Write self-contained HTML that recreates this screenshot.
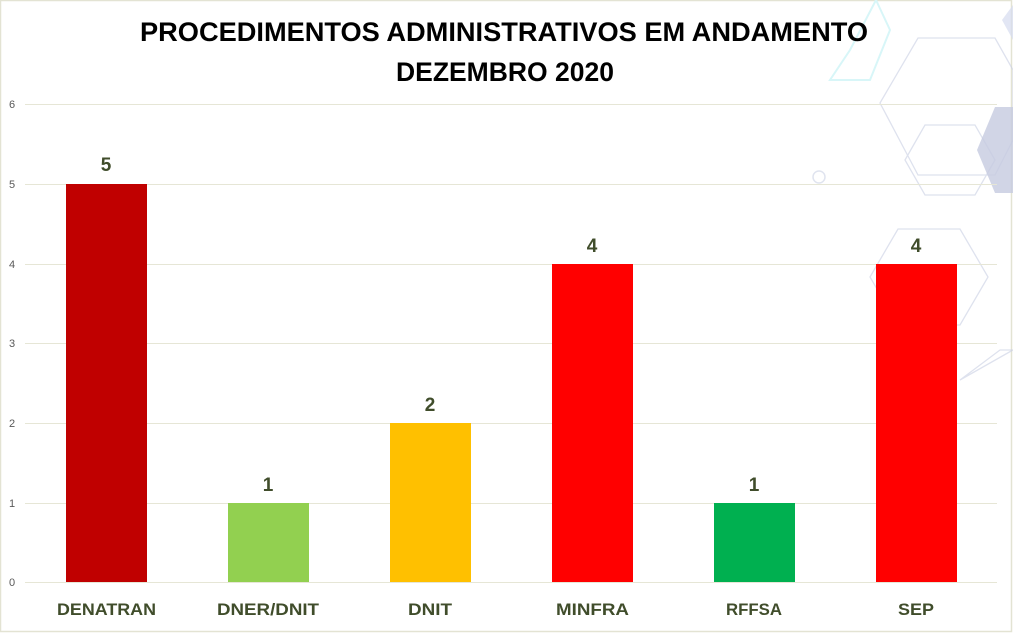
<!DOCTYPE html>
<html><head><meta charset="utf-8"><style>
html,body{margin:0;padding:0;background:#fff;}
svg{display:block;}
</style></head><body>
<svg width="1013" height="633" viewBox="0 0 1013 633" xmlns="http://www.w3.org/2000/svg" font-family="'Liberation Sans', sans-serif">
<rect x="0" y="0" width="1013" height="633" fill="#fff"/>
<rect x="0.5" y="0.5" width="1011" height="631" fill="none" stroke="#e3e3d3" stroke-width="1.5"/>
<g fill="none" stroke="#c9cfe3" stroke-width="1.3" opacity="0.6">
<polygon points="880,103 918,38 995,38 1013,70 1013,140 995,175 918,175"/>
<polygon points="905,160 925,125 975,125 995,160 975,195 925,195"/>
<polygon points="870,277 898,229 960,229 988,277 960,325 898,325"/>
<polygon points="960,380 1000,350 1013,350"/>
</g>
<polygon points="977,150 995,107 1013,107 1013,193 995,193" fill="#c5cbe0" opacity="0.8"/>
<polygon points="1002,20 1013,5 1013,40" fill="#d5dcef" opacity="0.7"/>
<g fill="none" stroke="#d8f6f8" stroke-width="2">
<polygon points="850,50 876,0 890,30 870,80 830,80"/>
</g>
<circle cx="819" cy="177" r="6" fill="none" stroke="#e0e4ef" stroke-width="1.5"/>
<g stroke="#e6e6d6" stroke-width="1">
<line x1="25" y1="104.5" x2="997" y2="104.5"/>
<line x1="25" y1="184.5" x2="997" y2="184.5"/>
<line x1="25" y1="264.5" x2="997" y2="264.5"/>
<line x1="25" y1="343.5" x2="997" y2="343.5"/>
<line x1="25" y1="423.5" x2="997" y2="423.5"/>
<line x1="25" y1="503.5" x2="997" y2="503.5"/>
<line x1="25" y1="582.5" x2="997" y2="582.5"/>
</g>
<g font-size="11" fill="#595959" text-anchor="middle">
<text x="12" y="108">6</text><text x="12" y="188">5</text><text x="12" y="268">4</text>
<text x="12" y="347">3</text><text x="12" y="427">2</text><text x="12" y="507">1</text><text x="12" y="586">0</text>
</g>
<rect x="66" y="184" width="81" height="398" fill="#c00000"/>
<rect x="228" y="503" width="81" height="79" fill="#92d050"/>
<rect x="390" y="423" width="81" height="159" fill="#ffc000"/>
<rect x="552" y="264" width="81" height="318" fill="#ff0000"/>
<rect x="714" y="503" width="81" height="79" fill="#00b050"/>
<rect x="876" y="264" width="81" height="318" fill="#ff0000"/>
<g font-size="19" font-weight="bold" fill="#404d2b" text-anchor="middle">
<text x="106" y="171">5</text><text x="268" y="491">1</text><text x="430" y="411">2</text>
<text x="592" y="252">4</text><text x="754" y="491">1</text><text x="916" y="252">4</text>
</g>
<g font-size="17" font-weight="bold" fill="#404d2b">
<text x="57" y="615" textLength="99" lengthAdjust="spacingAndGlyphs">DENATRAN</text>
<text x="217" y="615" textLength="102" lengthAdjust="spacingAndGlyphs">DNER/DNIT</text>
<text x="408" y="615" textLength="44" lengthAdjust="spacingAndGlyphs">DNIT</text>
<text x="556" y="615" textLength="73" lengthAdjust="spacingAndGlyphs">MINFRA</text>
<text x="726" y="615" textLength="56" lengthAdjust="spacingAndGlyphs">RFFSA</text>
<text x="898" y="615" textLength="36" lengthAdjust="spacingAndGlyphs">SEP</text>
</g>
<g font-size="27" font-weight="bold" fill="#000">
<text x="140" y="41" textLength="728" lengthAdjust="spacingAndGlyphs">PROCEDIMENTOS ADMINISTRATIVOS EM ANDAMENTO</text>
<text x="396" y="81" textLength="218" lengthAdjust="spacingAndGlyphs">DEZEMBRO 2020</text>
</g>
</svg>
</body></html>
